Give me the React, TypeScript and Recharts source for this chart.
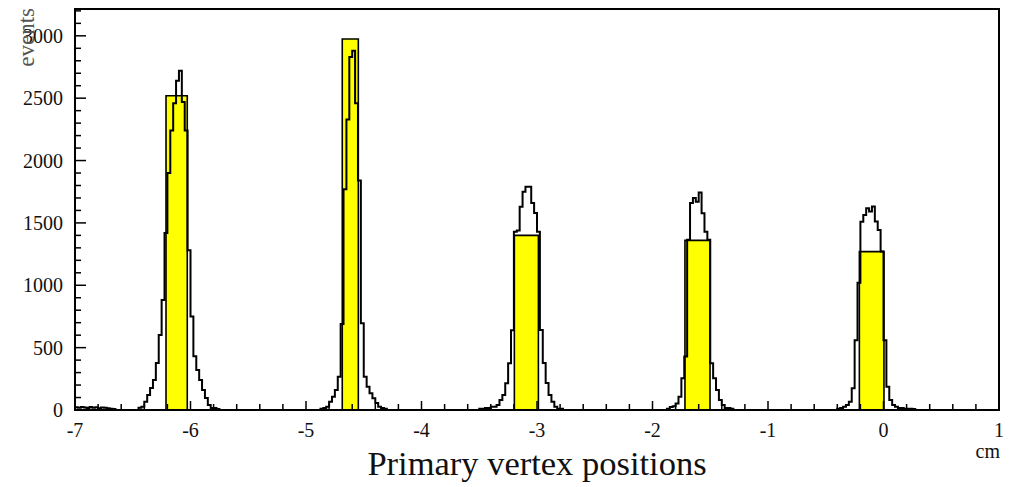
import { ComposedChart, Area, Line, XAxis, YAxis, ReferenceArea } from 'recharts';

// Primary vertex z positions: fine-binned histogram (black) plus one yellow bar per target foil.

const SERIF = '"Liberation Serif", "Times New Roman", serif';
const X_MIN = -7;
const X_MAX = 1;
const Y_MAX = 3215;
const binWidth = 0.025;

// thick low band at the start of the range
const lowBandStart = -7;
const lowBandCounts = [22, 18, 25, 20, 16, 24, 19, 22, 15, 20, 18, 14, 10, 8];

// left edge of the first bin of each peak
const peakStarts = [-6.45, -4.875, -3.5, -1.875, -0.4];

const peak1Counts = [
  18, 27, 67, 120, 176, 240, 377, 601, 882, 1420, 1900, 2240, 2460, 2640, 2720,
  2470, 2240, 1280, 750, 430, 320, 240, 160, 96, 40, 16, 16, 8,
];
const peak2Counts = [
  10, 16, 27, 67, 107, 160, 267, 690, 1770, 2330, 2830, 2880, 2460, 1840, 695,
  267, 187, 134, 94, 56, 27, 16, 10,
];
const peak3Counts = [
  10, 10, 16, 16, 27, 27, 40, 80, 120, 214, 374, 640, 1430, 1440, 1630, 1750,
  1790, 1790, 1660, 1580, 1430, 642, 377, 217, 120, 67, 27, 10, 10,
];
const peak4Counts = [
  10, 24, 30, 53, 107, 254, 428, 1364, 1660, 1700, 1670, 1743, 1578, 1430, 1364,
  374, 254, 160, 80, 40, 16, 16, 10,
];
const peak5Counts = [
  10, 16, 27, 40, 67, 174, 560, 1020, 1510, 1564, 1618, 1591, 1631, 1511, 1444,
  1270, 560, 187, 80, 40, 27, 16, 16, 10, 10, 10, 8,
];
const peakCounts = [peak1Counts, peak2Counts, peak3Counts, peak4Counts, peak5Counts];

// yellow bars (cm edges, events)
const barLeft = [-6.212, -4.686, -3.196, -1.719, -0.209];
const barRight = [-6.028, -4.547, -2.988, -1.502, 0.004];
const barHeight = [2520, 2975, 1400, 1360, 1270];

const xMajor = [-7, -6, -5, -4, -3, -2, -1, 0, 1];

const nBins = Math.round((X_MAX - X_MIN) / binWidth);
const counts: number[] = new Array(nBins).fill(0);
function place(start: number, values: number[]) {
  const i0 = Math.round((start - X_MIN) / binWidth);
  values.forEach((v, i) => {
    counts[i0 + i] = v;
  });
}
place(lowBandStart, lowBandCounts);
peakStarts.forEach((s, i) => place(s, peakCounts[i]));

const histData = counts.map((c, i) => ({ x: +(X_MIN + i * binWidth).toFixed(3), count: c }));
histData.push({ x: X_MAX, count: 0 });

const barData = barLeft.flatMap((l, i) => [
  { x: l, y: 0 },
  { x: l, y: barHeight[i] },
  { x: barRight[i], y: barHeight[i] },
  { x: barRight[i], y: 0 },
]);

const xTicks: number[] = [];
for (let i = 0; i <= 40; i++) xTicks.push(+(X_MIN + i * 0.2).toFixed(1));
const yTicks: number[] = [];
for (let v = 0; v <= 3200; v += 100) yTicks.push(v);

function XTick(props: any) {
  const { x, y, payload } = props;
  const v = payload.value as number;
  const major = xMajor.some((m) => Math.abs(m - v) < 1e-6);
  return (
    <g>
      <line x1={x} x2={x} y1={y} y2={y - (major ? 9 : 6)} stroke="#000" strokeWidth={1.5} />
      {major && (
        <text x={x} y={y + 20} dy="0.35em" textAnchor="middle" fontFamily={SERIF} fontSize={20} fill="#111">
          {v}
        </text>
      )}
    </g>
  );
}

function YTick(props: any) {
  const { x, y, payload } = props;
  const v = payload.value as number;
  const major = v % 500 === 0;
  return (
    <g>
      <line x1={x} x2={x + (major ? 11 : 6)} y1={y} y2={y} stroke="#000" strokeWidth={1.5} />
      {major && (
        <text x={x - 12} y={y} dy="0.35em" textAnchor="end" fontFamily={SERIF} fontSize={20} fill="#111">
          {v}
        </text>
      )}
    </g>
  );
}

export default function App() {
  return (
    <div style={{ position: 'absolute', left: 0, top: 0, width: 1009, height: 487, background: '#fff' }}>
      <ComposedChart width={1009} height={487} margin={{ top: 9, right: 10, left: 0, bottom: 0 }}>
        <XAxis
          dataKey="x"
          type="number"
          domain={[X_MIN, X_MAX]}
          allowDataOverflow
          ticks={xTicks}
          interval={0}
          tick={XTick}
          tickSize={0}
          tickMargin={0}
          tickLine={false}
          axisLine={{ stroke: '#000', strokeWidth: 2 }}
          height={77}
        />
        <YAxis
          type="number"
          domain={[0, Y_MAX]}
          allowDataOverflow
          ticks={yTicks}
          interval={0}
          tick={YTick}
          tickSize={0}
          tickMargin={0}
          tickLine={false}
          axisLine={{ stroke: '#000', strokeWidth: 2 }}
          width={75}
        />
        <Area
          data={barData}
          dataKey="y"
          type="linear"
          fill="#ffff00"
          fillOpacity={1}
          stroke="#000"
          strokeWidth={1.6}
          dot={false}
          activeDot={false}
          isAnimationActive={false}
        />
        <Line
          data={histData}
          dataKey="count"
          type="stepAfter"
          stroke="#000"
          strokeWidth={2}
          dot={false}
          activeDot={false}
          isAnimationActive={false}
        />
        <ReferenceArea x1={X_MIN} x2={X_MAX} y1={0} y2={Y_MAX} fill="none" stroke="#000" strokeWidth={2} />
      </ComposedChart>
      <svg width={1009} height={487} style={{ position: 'absolute', left: 0, top: 0, pointerEvents: 'none' }}>
        <text x={537} y={475} textAnchor="middle" fontFamily={SERIF} fontSize={34.5} fill="#111">
          Primary vertex positions
        </text>
        <text x={1000} y={458} textAnchor="end" fontFamily={SERIF} fontSize={20} fill="#111">
          cm
        </text>
        <text transform="translate(34, 8) rotate(-90)" textAnchor="end" fontFamily={SERIF} fontSize={23} fill="#555">
          events
        </text>
      </svg>
    </div>
  );
}
